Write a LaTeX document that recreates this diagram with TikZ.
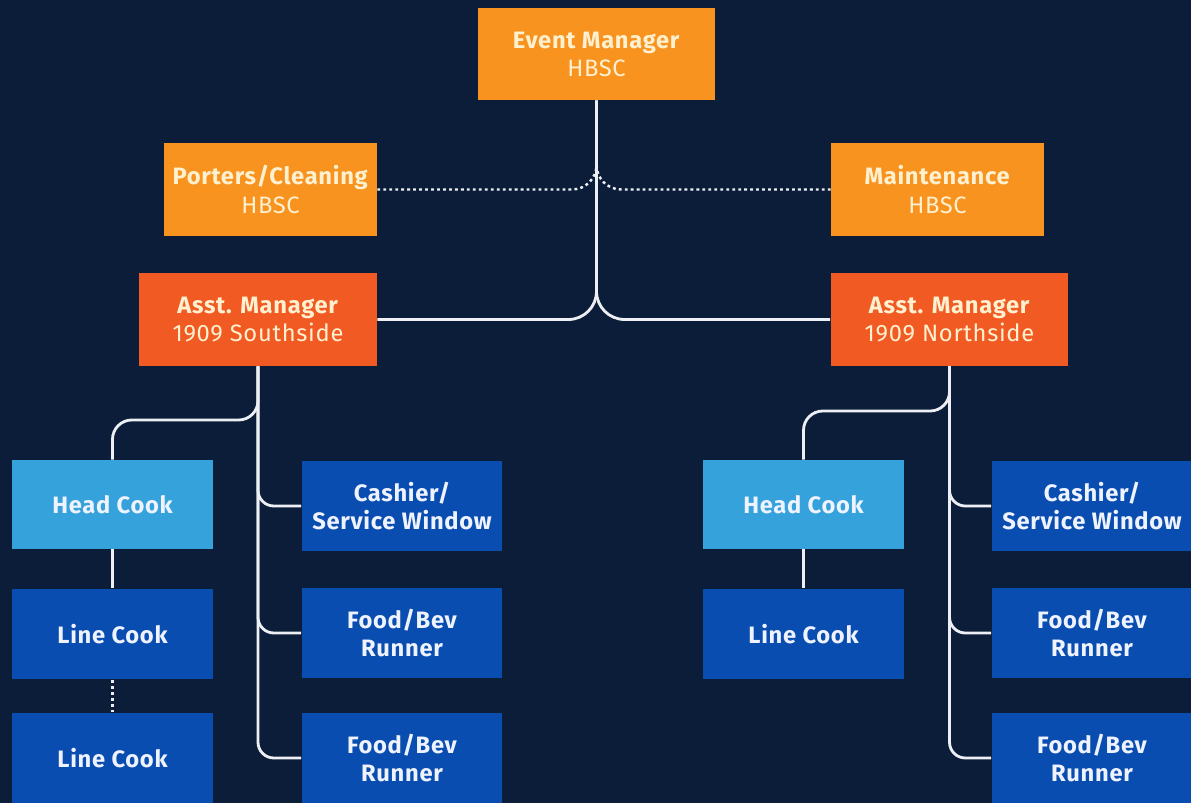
\documentclass[tikz,border=0pt]{standalone}
\usepackage{fontspec}
\setmainfont{Fira Sans}[LetterSpace=3]
\usepackage{xcolor}
\usepackage{tikz}

\definecolor{navy}{HTML}{0C1D3A}
\definecolor{amber}{HTML}{F7931E}
\definecolor{rust}{HTML}{F15A22}
\definecolor{sky}{HTML}{35A2DC}
\definecolor{royal}{HTML}{0A4DB0}
\definecolor{cream}{HTML}{FFF1D0}
\definecolor{ice}{HTML}{EEF3FF}
\definecolor{wirecol}{HTML}{EDEFF4}

\begin{document}
\begin{tikzpicture}[x=0.02cm, y=-0.02cm, font=\fontsize{13.5}{16}\selectfont]
      \tikzstyle{every box}=[rectangle, inner sep=0pt, align=center]
      \tikzstyle{top}=[every box, fill=amber, text=cream, minimum width=4.74cm, minimum height=1.84cm]
      \tikzstyle{side}=[every box, fill=amber, text=cream, minimum width=4.26cm, minimum height=1.86cm]
      \tikzstyle{asst}=[every box, fill=rust, text=cream, minimum width=4.76cm, minimum height=1.86cm]
      \tikzstyle{crew}=[every box, fill=royal, text=ice, minimum width=4.02cm, minimum height=1.82cm, font=\fontsize{13.5}{16}\selectfont\bfseries]
      \tikzstyle{lead}=[crew, fill=sky, minimum height=1.78cm]
      \tikzstyle{wire}=[draw=wirecol, line width=1.6pt]
      \tikzstyle{dots}=[draw=wirecol, line width=1.4pt, dash pattern=on 1.6pt off 1.8pt]

      % Background
      \fill[navy] (0,0) rectangle (1191,803);
      \useasboundingbox (0,0) rectangle (1191,803);

      % Management
      \node[top] (EM) at (596.5,54) {\textbf{Event Manager}\\HBSC};
      \node[side] (PC) at (270.5,189.5) {\textbf{Porters/Cleaning}\\HBSC};
      \node[side] (MT) at (937.5,189.5) {\textbf{Maintenance}\\HBSC};
      \node[asst] (AS) at (258,319.5) {\textbf{Asst. Manager}\\1909 Southside};
      \node[asst] (AN) at (949.5,319.5) {\textbf{Asst. Manager}\\1909 Northside};

      % Southside staff
      \node[lead] (HC-S) at (112.5,504.5) {Head Cook};
      \node[crew] (LC-S1) at (112.5,634) {Line Cook};
      \node[crew] (LC-S2) at (112.5,758) {Line Cook};
      \node[crew] (CW-S) at (402,506) {Cashier/\\Service Window};
      \node[crew] (FB-S1) at (402,633) {Food/Bev\\Runner};
      \node[crew] (FB-S2) at (402,758) {Food/Bev\\Runner};

      % Northside staff
      \node[lead] (HC-N) at (803.5,504.5) {Head Cook};
      \node[crew] (LC-N1) at (803.5,634) {Line Cook};
      \node[crew] (CW-N) at (1092,506) {Cashier/\\Service Window};
      \node[crew] (FB-N1) at (1092,633) {Food/Bev\\Runner};
      \node[crew] (FB-N2) at (1092,758) {Food/Bev\\Runner};

      % Trunk from the event manager
      \draw[wire, rounded corners=16pt] (EM.south) |- (AS.east);
      \draw[wire, rounded corners=16pt] (EM.south) |- (AN.west);
      \coordinate (J) at (596.5,150);
      \draw[dots, rounded corners=14pt] (PC.east) -| (J);
      \draw[dots, rounded corners=14pt] (MT.west) -| (J);

      % Branches below the assistant managers
      \draw[wire, rounded corners=11pt] (AS.south) -- (AS.south |- 0,420) -| (HC-S.north);
      \draw[wire, rounded corners=11pt] (AN.south) -- (AN.south |- 0,411) -| (HC-N.north);
      \foreach \j in {CW-S,FB-S1,FB-S2}
        \draw[wire, rounded corners=9pt] (AS.south) |- (\j.west);
      \foreach \j in {CW-N,FB-N1,FB-N2}
        \draw[wire, rounded corners=9pt] (AN.south) |- (\j.west);

      % Kitchen lines
      \draw[wire] (HC-S) -- (LC-S1);
      \draw[dots] (LC-S1) -- (LC-S2);
      \draw[wire] (HC-N) -- (LC-N1);
    \end{tikzpicture}
\end{document}
